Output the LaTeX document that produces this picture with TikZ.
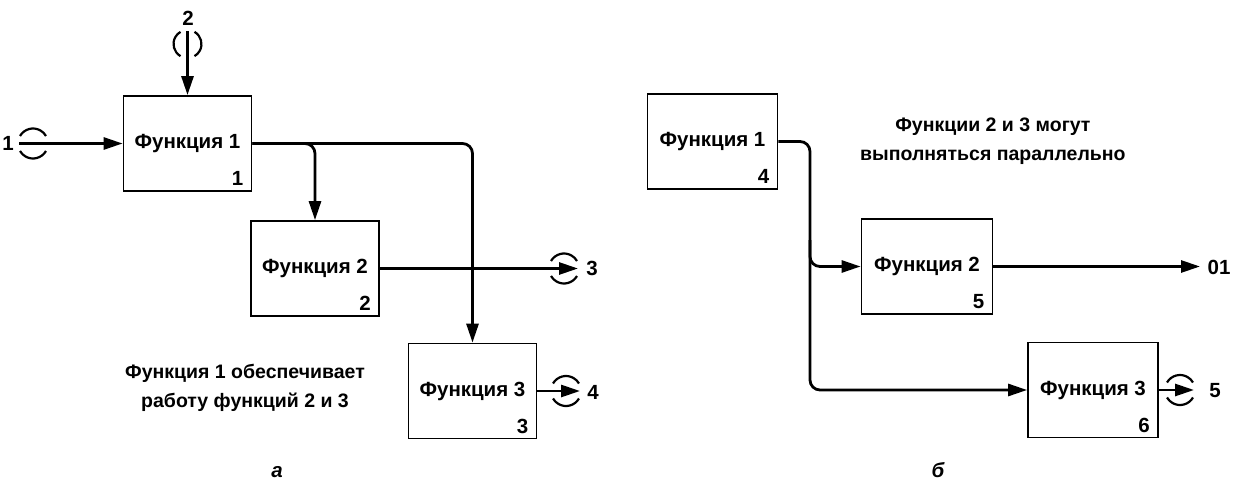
\documentclass[tikz,border=0pt]{standalone}
\usepackage{fontspec}
\setmainfont{Liberation Sans}
\usetikzlibrary{arrows.meta,calc}
\begin{document}
\begin{tikzpicture}[x=1pt,y=-1pt,
  fbox/.style={draw,line width=1.8pt,minimum width=128pt,minimum height=95pt,inner sep=0pt,font=\fontsize{20.5}{24}\selectfont\bfseries},
  num/.style={font=\fontsize{20.5}{24}\selectfont\bfseries,inner sep=0pt,anchor=base east},
  conn/.style={line width=2.8pt},
  arr/.style={conn,-{Triangle[length=19pt,width=12pt]}},
  tun/.style={line width=2.2pt},
  lbl/.style={font=\fontsize{20.5}{24}\selectfont\bfseries,inner sep=0pt},
  note/.style={font=\fontsize{19.5}{29}\selectfont\bfseries,align=center,inner sep=0pt},
]
\useasboundingbox (0,0) rectangle (1236,481);

% ---------- a ----------
\node[fbox] (f1) at (187.5,143.5) {Функция 1};
\node[fbox] (f2) at (315,268.5) {Функция 2};
\node[fbox] (f3) at (472.5,391) {Функция 3};
\node[num] (n1) at ($(f1.south east)+(-9,-6)$) {1};
\node[num] (n2) at ($(f2.south east)+(-9,-6)$) {2};
\node[num] (n3) at ($(f3.south east)+(-9,-6)$) {3};

% input 1
\coordinate (i1) at (19,143.5);
\draw[arr] (i1) -- (f1.west);
\draw[tun] ([shift={(30:15)}]33,143.5) arc[start angle=30,end angle=150,radius=15];
\draw[tun] ([shift={(210:15)}]33,143.5) arc[start angle=210,end angle=330,radius=15];
\node[lbl] (l1) at (8,143) {1};

% input 2
\coordinate (i2) at (187.5,31);
\draw[arr] (i2) -- (f1.north);
\draw[tun] ([shift={(120:14)}]187.5,44) arc[start angle=120,end angle=240,radius=14];
\draw[tun] ([shift={(-60:14)}]187.5,44) arc[start angle=-60,end angle=60,radius=14];
\node[lbl] (l2) at (188,18) {2};

% internal
\draw[arr,rounded corners=10pt] (f1.east) -| (f3.north);
\draw[arr,rounded corners=10pt] (f1.east) -| (f2.north);

% output 3
\coordinate (o3) at (578,268.5);
\draw[arr] (f2.east) -- (o3);
\draw[tun] ([shift={(30:15)}]564,268.5) arc[start angle=30,end angle=150,radius=15];
\draw[tun] ([shift={(210:15)}]564,268.5) arc[start angle=210,end angle=330,radius=15];
\node[lbl] (l3) at (592,268) {3};

% output 4
\coordinate (o4) at (580,391);
\draw[arr] (f3.east) -- (o4);
\draw[tun] ([shift={(30:15)}]566,391) arc[start angle=30,end angle=150,radius=15];
\draw[tun] ([shift={(210:15)}]566,391) arc[start angle=210,end angle=330,radius=15];
\node[lbl] (l4) at (593,392) {4};

\node[note,anchor=east] (t1) at (365,388) {Функция 1 обеспечивает\\работу функций 2 и 3};
\node[lbl,font=\fontsize{20.5}{24}\selectfont\bfseries\itshape,anchor=base] (ca) at (277,477) {а};

% ---------- б ----------
\node[fbox,minimum width=130pt] (f4) at (712.5,141.5) {Функция 1};
\node[fbox,minimum width=131pt] (f5) at (927,266.5) {Функция 2};
\node[fbox,minimum width=130pt] (f6) at (1093,390) {Функция 3};
\node[num] (n4) at ($(f4.south east)+(-9,-6)$) {4};
\node[num] (n5) at ($(f5.south east)+(-9,-6)$) {5};
\node[num] (n6) at ($(f6.south east)+(-9,-6)$) {6};

\coordinate (jb) at (810,390);
\coordinate (ja) at (810,240);
\draw[arr,rounded corners=10pt] (f4.east) -| (jb) -- (f6.west);
\draw[arr,rounded corners=10pt] (ja) |- (f5.west);

\coordinate (o5) at (1200,266.5);
\draw[arr] (f5.east) -- (o5);
\node[lbl] (l01) at (1219,267) {01};

\coordinate (o6) at (1194,390);
\draw[arr] (f6.east) -- (o6);
\draw[tun] ([shift={(30:15)}]1180,390) arc[start angle=30,end angle=150,radius=15];
\draw[tun] ([shift={(210:15)}]1180,390) arc[start angle=210,end angle=330,radius=15];
\node[lbl] (l5) at (1215,391) {5};

\node[note,anchor=west] (t2) at (860,141) {Функции 2 и 3 могут\\выполняться параллельно};
\node[lbl,font=\fontsize{20.5}{24}\selectfont\bfseries\itshape,anchor=base] (cb) at (938,477) {б};
\end{tikzpicture}
\end{document}
